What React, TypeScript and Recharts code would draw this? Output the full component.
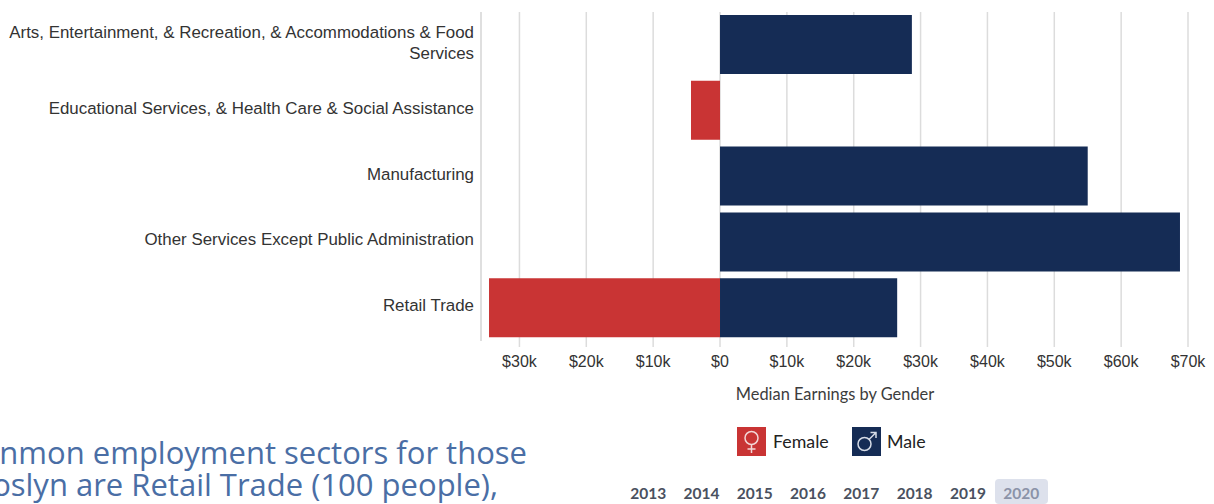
import { BarChart, Bar, XAxis, YAxis, CartesianGrid } from "recharts";

const categories = [
  "Arts, Entertainment, & Recreation, & Accommodations & Food Services",
  "Educational Services, & Health Care & Social Assistance",
  "Manufacturing",
  "Other Services Except Public Administration",
  "Retail Trade",
];
const female = [null, -4340, null, null, -34550];
const male = [28700, null, 55000, 68800, 26500];
const xTicks = [-30000, -20000, -10000, 0, 10000, 20000, 30000, 40000, 50000, 60000, 70000];
const years = ["2013", "2014", "2015", "2016", "2017", "2018", "2019", "2020"];

const data = categories.map((name, i) => ({ name, female: female[i], male: male[i] }));

const fmt = (v: number) => (v === 0 ? "$0" : `$${Math.abs(v) / 1000}k`);

// long names go over two lines, the last word on the second
function wrapLabel(s: string) {
  if (s.length < 60) return [s];
  const cut = s.lastIndexOf(" ");
  return [s.slice(0, cut), s.slice(cut + 1)];
}

function CategoryTick({ x, y, payload }: any) {
  const lines = wrapLabel(payload.value);
  return (
    <text
      x={x}
      y={y + 3 - (lines.length - 1) * 10}
      textAnchor="end"
      fontSize={16.9}
      fontFamily="Liberation Sans"
      fill="#333"
    >
      {lines.map((l, i) => (
        <tspan key={i} x={x} dy={i === 0 ? 0 : 21}>
          {l}
        </tspan>
      ))}
    </text>
  );
}

function VenusIcon() {
  return (
    <svg width={29} height={29} style={{ display: "block" }}>
      <rect width={29} height={29} fill="#c93434" />
      <circle cx={14.5} cy={11} r={6.5} fill="none" stroke="#f3d6d6" strokeWidth={1.5} />
      <path d="M14.5 17.5V26M10.5 22H18.5" stroke="#f3d6d6" strokeWidth={1.5} />
    </svg>
  );
}

function MarsIcon() {
  return (
    <svg width={29} height={29} style={{ display: "block" }}>
      <rect width={29} height={29} fill="#152c55" />
      <circle cx={12.5} cy={17} r={6.5} fill="none" stroke="#d5dbe6" strokeWidth={1.5} />
      <path d="M17 12.5L24 5.5M18.5 5.5H24V11" fill="none" stroke="#d5dbe6" strokeWidth={1.5} />
    </svg>
  );
}

export default function App() {
  return (
    <div style={{ position: "fixed", left: 0, top: 0, width: 1214, height: 504, overflow: "hidden", background: "#fff" }}>
      <BarChart
        width={1214}
        height={388}
        data={data}
        layout="vertical"
        stackOffset="sign"
        barSize={59}
        margin={{ top: 12, right: 26, bottom: 0, left: 0 }}
      >
        <CartesianGrid horizontal={false} stroke="#dcdcdc" strokeWidth={1.5} />
        <XAxis
          type="number"
          domain={[-35750, 70000]}
          ticks={xTicks}
          tickFormatter={fmt}
          axisLine={false}
          tickLine={{ stroke: "#dcdcdc", strokeWidth: 1.5 }}
          tickSize={6}
          tickMargin={9}
          height={47}
          tick={{ fontSize: 16, fontFamily: "Liberation Sans", fill: "#333" }}
        />
        <YAxis
          type="category"
          dataKey="name"
          width={481}
          axisLine={{ stroke: "#dcdcdc", strokeWidth: 1.5 }}
          tickLine={false}
          tickMargin={1}
          tick={<CategoryTick />}
          interval={0}
        />
        <Bar dataKey="female" stackId="a" fill="#c93434" isAnimationActive={false} />
        <Bar dataKey="male" stackId="a" fill="#152c55" isAnimationActive={false} />
      </BarChart>

      <div style={{ position: "absolute", left: 635, width: 400, top: 384, textAlign: "center", font: "16.4px Lato", color: "#3c3c3c" }}>
        Median Earnings by Gender
      </div>

      <div style={{ position: "absolute", left: 737, top: 427, display: "flex", alignItems: "center", font: "17.8px Lato", color: "#222" }}>
        <VenusIcon />
        <span style={{ marginLeft: 7, width: 79, paddingBottom: 2 }}>Female</span>
        <MarsIcon />
        <span style={{ marginLeft: 6, paddingBottom: 2 }}>Male</span>
      </div>

      <div style={{ position: "absolute", left: 621.5, top: 479, display: "flex", font: "bold 15.5px Lato", color: "#4a5160" }}>
        {years.map((y) => (
          <span
            key={y}
            style={{
              width: 53.3,
              height: 25,
              lineHeight: "28px",
              textAlign: "center",
              borderRadius: 4,
              background: y === "2020" ? "#dde1ec" : "transparent",
              color: y === "2020" ? "#8b93a8" : "#4a5160",
            }}
          >
            {y}
          </span>
        ))}
      </div>

      <div style={{ position: "absolute", right: 687, top: 436, whiteSpace: "nowrap", textAlign: "right", font: "31px/32px 'Open Sans'", color: "#4a6ea5" }}>
        <div>nmon employment sectors for those</div>
        <div style={{ marginRight: 29 }}>oslyn are Retail Trade (100 people),</div>
      </div>
    </div>
  );
}
